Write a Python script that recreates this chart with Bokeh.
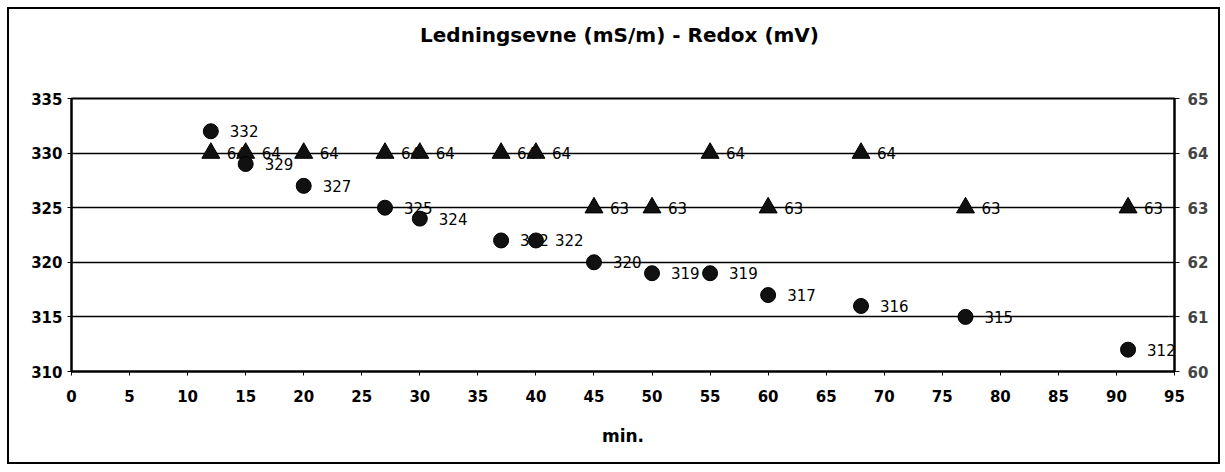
from bokeh.plotting import figure
from bokeh.models import Range1d, LinearAxis, FixedTicker, ColumnDataSource, Title
from bokeh.core.properties import value
from bokeh.embed import file_html
from bokeh.resources import INLINE

# data
minutes = [12, 15, 20, 27, 30, 37, 40, 45, 50, 55, 60, 68, 77, 91]
redox_mv = [332, 329, 327, 325, 324, 322, 322, 320, 319, 319, 317, 316, 315, 312]
ledningsevne = [64, 64, 64, 64, 64, 64, 64, 63, 63, 64, 63, 64, 63, 63]
x_ticks = list(range(0, 100, 5))
left_ticks = [310, 315, 320, 325, 330, 335]
right_ticks = [60, 61, 62, 63, 64, 65]
title_text = "Ledningsevne (mS/m) -  Redox (mV)"
x_title = "min."

FONT = "DejaVu Sans"

# canvas placed at (9, 9) inside a 2px CSS border
p = figure(width=1213, height=457, output_backend="svg", toolbar_location=None,
           x_range=Range1d(0, 95), y_range=Range1d(310, 335),
           min_border_left=62, min_border_right=48, min_border_top=89, min_border_bottom=95)
p.styles = {"margin-left": "7px", "margin-top": "7px", "border": "2px solid black"}
p.extra_y_ranges = {"right": Range1d(60, 65)}
p.background_fill_color = "white"
p.border_fill_color = "white"
p.outline_line_color = "black"
p.outline_line_width = 2

# spacer between frame and title
p.add_layout(Title(text=" ", text_font=FONT, text_font_size="20px", standoff=26), "above")
p.title.text = title_text
p.title.align = "center"
p.title.text_font = FONT
p.title.text_font_size = "20px"
p.title.text_font_style = "bold"
p.title.text_color = "black"
p.title.standoff = 0

# axes
p.xaxis.ticker = FixedTicker(ticks=x_ticks)
p.yaxis.ticker = FixedTicker(ticks=left_ticks)
for ax in [p.xaxis[0], p.yaxis[0]]:
    ax.axis_line_color = "black"
    ax.axis_line_width = 2
    ax.major_tick_line_color = "black"
    ax.major_tick_out = 4
    ax.major_tick_in = 0
    ax.minor_tick_line_color = None
    ax.major_label_text_font = FONT
    ax.major_label_text_font_style = "bold"
    ax.major_label_text_font_size = "15px"
    ax.major_label_text_color = "black"
p.xaxis.major_label_standoff = 14
p.yaxis.major_label_standoff = 5
p.xaxis.axis_label = x_title
p.xaxis.axis_label_text_font = FONT
p.xaxis.axis_label_text_font_size = "17px"
p.xaxis.axis_label_text_font_style = "bold"
p.xaxis.axis_label_text_color = "black"
p.xaxis.axis_label_standoff = 21

ry = LinearAxis(y_range_name="right", ticker=FixedTicker(ticks=right_ticks))
ry.axis_line_color = "black"
ry.axis_line_width = 2
ry.major_tick_line_color = "black"
ry.major_tick_out = 5
ry.major_tick_in = 0
ry.minor_tick_line_color = None
ry.major_label_text_font = FONT
ry.major_label_text_font_style = "bold"
ry.major_label_text_font_size = "15px"
ry.major_label_standoff = 8
p.add_layout(ry, "right")

p.xgrid.grid_line_color = None
p.ygrid.ticker = FixedTicker(ticks=left_ticks)
p.ygrid.grid_line_color = "black"
p.ygrid.grid_line_width = 1.5

src_c = ColumnDataSource(dict(x=minutes, y=redox_mv, t=[str(v) for v in redox_mv]))
src_t = ColumnDataSource(dict(x=minutes, y=ledningsevne, t=[str(v) for v in ledningsevne]))

# labels first, markers on top
p.text(x="x", y="y", text="t", source=src_t, y_range_name="right", x_offset=16,
       text_font=value(FONT), text_font_size="15px", text_baseline="middle",
       text_align="left", text_color="black")
p.text(x="x", y="y", text="t", source=src_c, x_offset=19,
       text_font=value(FONT), text_font_size="15px", text_baseline="middle",
       text_align="left", text_color="black")
p.scatter(x="x", y="y", source=src_t, y_range_name="right", marker="triangle",
          size=18, fill_color="#111111", line_color="black")
p.scatter(x="x", y="y", source=src_c, marker="circle",
          size=15, fill_color="#111111", line_color="black")

open("out.html", "w").write(file_html(p, INLINE))
